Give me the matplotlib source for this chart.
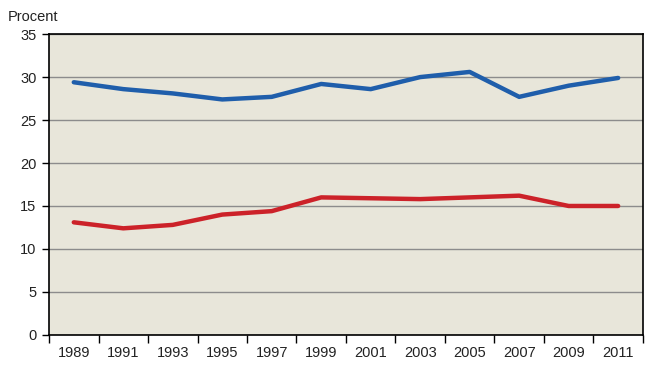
import numpy as np
import matplotlib.pyplot as plt

plt.rcParams['font.family'] = ['Liberation Sans', 'DejaVu Sans']

years = ['1989', '1991', '1993', '1995', '1997', '1999', '2001', '2003', '2005', '2007', '2009', '2011']
blue = [29.4, 28.6, 28.1, 27.4, 27.7, 29.2, 28.6, 30.0, 30.6, 27.7, 29.0, 29.9]
red = [13.1, 12.4, 12.8, 14.0, 14.4, 16.0, 15.9, 15.8, 16.0, 16.2, 15.0, 15.0]

fig = plt.figure(figsize=(6.54, 3.75), dpi=100)
ax = fig.add_axes([0.075, 0.107, 0.908, 0.802])
ax.set_facecolor('#e8e6da')

x = np.arange(len(years))
ax.plot(x, blue, color='#1f5eab', lw=3.2, solid_capstyle='round', zorder=3)
ax.plot(x, red, color='#cc2229', lw=3.2, solid_capstyle='round', zorder=3)

ax.set_xlim(-0.5, len(years) - 0.5)
ax.set_ylim(0, 35)
ax.set_yticks(range(0, 36, 5))
ax.yaxis.grid(True, color='#8c8c8c', lw=1)
ax.set_axisbelow(True)

# category axis: labels at centres, tick marks between categories
ax.set_xticks(x)
ax.set_xticklabels(years)
ax.tick_params(axis='x', length=0, pad=8, labelsize=10.5, colors='#222222')
ax.set_xticks(np.arange(-0.5, len(years)), minor=True)
ax.tick_params(axis='x', which='minor', length=6, width=1, color='black', direction='out')
ax.tick_params(axis='y', length=5, width=1, direction='out', labelsize=10.5, colors='#222222', pad=4)
ax.tick_params(axis='y', color='black')

for s in ax.spines.values():
    s.set_color('black')
    s.set_linewidth(1.2)

fig.text(0.012, 0.945, 'Procent', fontsize=10.5, color='#222222')

fig.savefig('out.png', dpi=100)
